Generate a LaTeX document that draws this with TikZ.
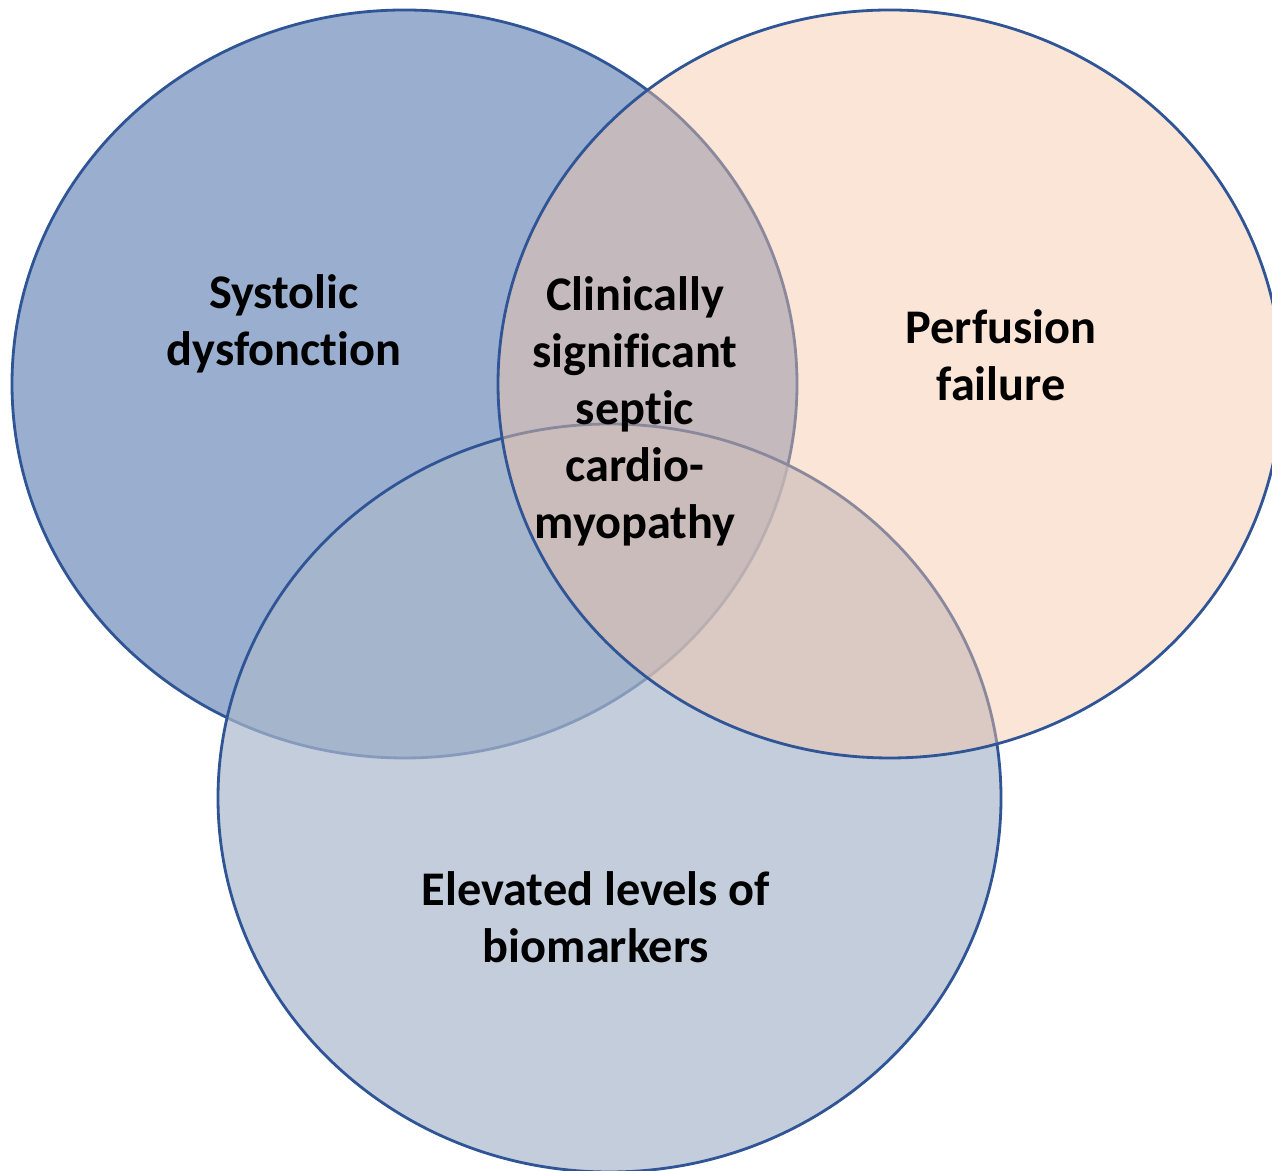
\documentclass[tikz,border=0pt]{standalone}
\usepackage{fontspec}
\setmainfont[Ligatures=NoCommon]{Carlito}
\usepackage{tikz}
\usetikzlibrary{positioning}
\definecolor{vennline}{RGB}{47,85,151}
\definecolor{systolicfill}{RGB}{154,175,207}
\definecolor{markerfill}{RGB}{171,184,204}
\definecolor{perfusionfill}{RGB}{246,198,166}

\begin{document}
\begin{tikzpicture}[
    venn/.style={draw=vennline, line width=1.6pt},
    settext/.style={align=center, inner sep=0pt,
                    font=\fontsize{27.5}{32.4}\selectfont\bfseries}
]
\useasboundingbox (0,0) rectangle (25.44,23.42);

% the three sets
\draw[venn, fill=systolicfill] (8.09,15.74) ellipse [x radius=7.85cm, y radius=7.48cm];
\draw[venn, fill=markerfill, fill opacity=0.7] (12.19,7.46) ellipse [x radius=7.83cm, y radius=7.48cm];
\draw[venn, fill=perfusionfill, fill opacity=0.46] (17.8,15.74) ellipse [x radius=7.84cm, y radius=7.48cm];

\node[settext] (systolic)  at (5.68,16.94) {Systolic\\dysfonction};
\node[settext] (perfusion) at (20.02,16.32) {Perfusion\\failure};
\node[settext] (markers)   at (11.92,5.08) {Elevated levels of\\biomarkers};
\node[settext] (septic)    at (12.7,15.2) {Clinically\\significant\\septic\\cardio-\\myopathy};
\end{tikzpicture}
\end{document}
